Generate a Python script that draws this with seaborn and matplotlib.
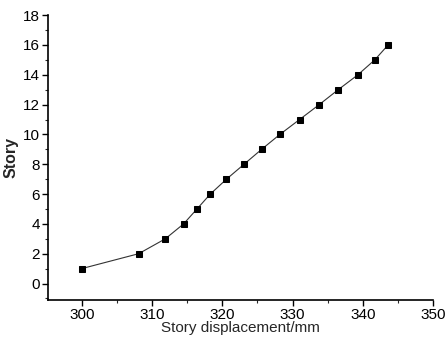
import matplotlib
matplotlib.use("Agg")
import matplotlib.pyplot as plt
import seaborn as sns
import pandas as pd
from matplotlib.ticker import MultipleLocator

# Datos
story = [1, 2, 3, 4, 5, 6, 7, 8, 9, 10, 11, 12, 13, 14, 15, 16]
displacement = [300.0, 308.1, 311.9, 314.5, 316.4, 318.3, 320.6, 323.1,
                325.6, 328.2, 331.0, 333.8, 336.5, 339.3, 341.7, 343.6]

data = pd.DataFrame({'Displacement': displacement, 'Story': story})

sns.set_style('ticks')
plt.rcParams['font.family'] = ['Liberation Sans', 'DejaVu Sans']

fig = plt.figure(figsize=(4.46, 3.37), dpi=100)
ax = fig.add_axes([0.1076, 0.110, 0.8634, 0.845])

sns.lineplot(data=data, x='Displacement', y='Story', ax=ax, sort=False,
             color='#333333', linewidth=0.8, marker='s', markersize=5,
             markerfacecolor='black', markeredgecolor='black')

ax.set_xlim(295.2, 350)
ax.set_ylim(-1.1, 18)
ax.xaxis.set_major_locator(MultipleLocator(10))
ax.xaxis.set_minor_locator(MultipleLocator(5))
ax.yaxis.set_major_locator(MultipleLocator(2))
ax.yaxis.set_minor_locator(MultipleLocator(1))
ax.tick_params(which='major', length=4, width=1, labelsize=11, colors='black', pad=2)
ax.tick_params(which='minor', length=2.5, width=0.8)
for s in ['left', 'bottom']:
    ax.spines[s].set_linewidth(1.2)
    ax.spines[s].set_color('black')
sns.despine(ax=ax)

ax.set_xlabel('Story displacement/mm', fontsize=11, labelpad=-1)
ax.set_ylabel('Story', fontsize=11.5, fontweight='bold', labelpad=3)

fig.savefig('out.png', dpi=100)
plt.close()
